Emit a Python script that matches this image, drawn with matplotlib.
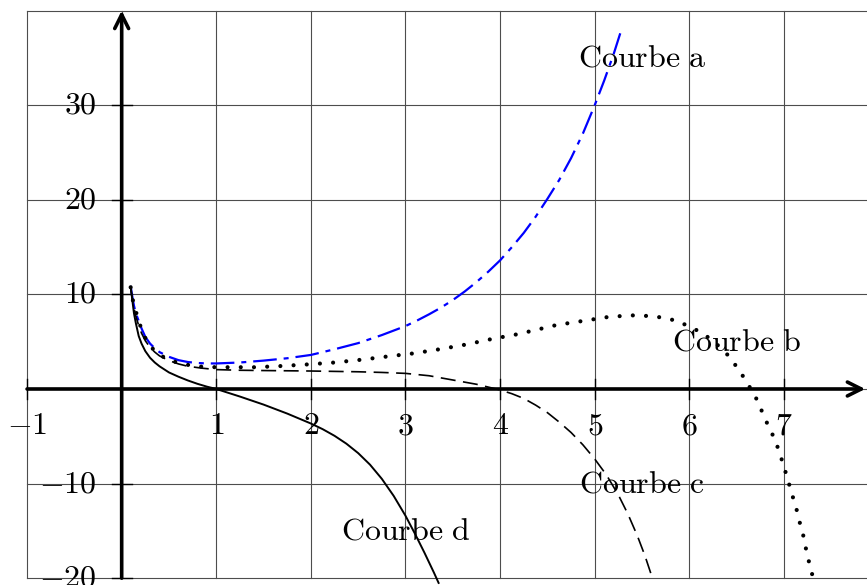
import matplotlib
matplotlib.use("Agg")
from matplotlib import pyplot as plt

plt.rcParams['mathtext.fontset'] = 'cm'
plt.rcParams['lines.scale_dashes'] = False

# values
xa = [0.095, 0.11, 0.13, 0.15, 0.18, 0.21, 0.25, 0.3, 0.35, 0.4, 0.5, 0.6, 0.7, 0.8, 0.9,
      1.0, 1.25, 1.5, 1.75, 2.0, 2.25, 2.5, 2.75, 3.0, 3.125, 3.25, 3.375, 3.5, 3.625,
      3.75, 3.875, 4.0, 4.125, 4.25, 4.375, 4.5, 4.625, 4.75, 4.875, 5.0, 5.1, 5.2, 5.27]
ya = [10.9, 9.9, 8.8, 8.0, 7.2, 6.4, 5.5, 4.8, 4.3, 3.9, 3.4, 3.05, 2.85, 2.75, 2.7,
      2.7, 2.8, 3.0, 3.25, 3.6, 4.2, 4.85, 5.7, 6.65, 7.25, 7.9, 8.6, 9.4, 10.3,
      11.3, 12.4, 13.6, 15.0, 16.5, 18.2, 20.1, 22.1, 24.4, 27.0, 30.0, 32.6, 35.4, 37.6]

xb = [0.095, 0.12, 0.15, 0.18, 0.21, 0.25, 0.3, 0.35, 0.4, 0.5, 0.6, 0.7, 0.85, 1.0,
      1.13, 1.41, 1.69, 1.97, 2.25, 2.54, 2.82, 3.09, 3.36, 3.64, 3.92, 4.19, 4.6, 4.88,
      5.16, 5.44, 5.58, 5.72, 5.86, 5.98, 6.11, 6.23, 6.33, 6.43, 6.51, 6.59, 6.66, 6.73,
      6.78, 6.84, 6.9, 6.95, 6.99, 7.03, 7.07, 7.11, 7.15, 7.18, 7.22, 7.24, 7.28, 7.31]
yb = [10.75, 9.3, 8.2, 7.2, 6.3, 5.4, 4.6, 4.0, 3.6, 3.1, 2.75, 2.55, 2.35, 2.3,
      2.3, 2.3, 2.43, 2.6, 2.8, 3.1, 3.45, 3.77, 4.2, 4.7, 5.3, 5.8, 6.77, 7.2,
      7.64, 7.8, 7.7, 7.55, 7.22, 6.7, 6.06, 5.25, 4.37, 3.35, 2.19, 1.02, -0.18, -1.4,
      -2.7, -4.0, -5.25, -6.6, -7.9, -9.2, -10.6, -11.95, -13.3, -14.7, -16.0, -17.4,
      -18.8, -20.1]

xc = [0.095, 0.12, 0.15, 0.18, 0.21, 0.25, 0.3, 0.35, 0.4, 0.5, 0.6, 0.7, 0.85, 1.0,
      1.25, 1.5, 2.0, 2.5, 2.75, 3.0, 3.25, 3.5, 3.75, 4.0, 4.125, 4.25, 4.375, 4.5,
      4.625, 4.75, 4.875, 5.0, 5.125, 5.25, 5.35, 5.45, 5.53, 5.61]
yc = [10.7, 9.0, 7.7, 6.7, 5.9, 5.1, 4.4, 3.9, 3.5, 3.0, 2.65, 2.4, 2.2, 2.05,
      1.98, 1.95, 1.9, 1.82, 1.75, 1.65, 1.4, 0.95, 0.5, -0.1, -0.5, -1.0, -1.7, -2.5,
      -3.5, -4.6, -5.9, -7.4, -9.1, -11.2, -13.2, -15.5, -17.6, -20.0]

xd = [0.095, 0.11, 0.13, 0.15, 0.18, 0.21, 0.25, 0.3, 0.35, 0.4, 0.5, 0.6, 0.7, 0.8, 0.9,
      1.0, 1.25, 1.5, 1.75, 2.0, 2.125, 2.25, 2.375, 2.5, 2.625, 2.75, 2.875, 3.0, 3.1,
      3.2, 3.3, 3.35]
yd = [10.8, 9.6, 8.0, 6.95, 5.6, 4.8, 4.0, 3.3, 2.8, 2.4, 1.75, 1.3, 0.9, 0.55, 0.25,
      0.0, -0.8, -1.65, -2.6, -3.65, -4.25, -4.95, -5.78, -6.78, -8.0, -9.5, -11.3, -13.4,
      -15.3, -17.3, -19.4, -20.5]

xticks = [-1, 1, 2, 3, 4, 5, 6, 7]
yticks = [-20, -10, 10, 20, 30]

labels = ['Courbe a', 'Courbe b', 'Courbe c', 'Courbe d']
label_pos = [(5.5, 35), (6.5, 5), (5.5, -10), (3, -15)]

fig = plt.figure(figsize=(8.67, 5.85), dpi=100)
ax = fig.add_axes([0, 0, 1, 1])
ax.set_xlim(-1.286, 7.878)
ax.set_ylim(-20.72, 41.12)
ax.axis('off')

# grid
for gx in range(-1, 9):
    ax.plot([gx, gx], [-20, 40], color='0.3', lw=0.8, zorder=1)
for gy in range(-20, 41, 10):
    ax.plot([-1, 8], [gy, gy], color='0.3', lw=0.8, zorder=1)

# axes with arrows
arrow = dict(arrowstyle='->,head_length=0.5,head_width=0.25', lw=2.6, color='k',
             shrinkA=0, shrinkB=0, mutation_scale=20)
ax.annotate('', xy=(7.86, 0), xytext=(-1, 0), arrowprops=arrow, zorder=3)
ax.annotate('', xy=(0, 40), xytext=(0, -20), arrowprops=arrow, zorder=3)

for t in xticks:
    ax.plot([t, t], [-1.06, 1.06], color='k', lw=1.0, zorder=3)
    ax.text(t, -3.9, '$%d$' % t, ha='center', va='center', fontsize=23)
for t in yticks:
    ax.plot([-0.105, 0.105], [t, t], color='k', lw=1.0, zorder=3)
    ax.text(-0.264, t, '$%d$' % t, ha='right', va='center', fontsize=23)

# curves
ax.plot(xa, ya, color='blue', lw=1.6, dashes=(17, 5, 3.6, 5), zorder=4)
ax.plot(xb, yb, color='k', lw=3.0, dashes=(0.01, 9.5), dash_capstyle='round', zorder=4)
ax.plot(xc, yc, color='k', lw=1.2, dashes=(10.8, 5.4), zorder=4)
ax.plot(xd, yd, color='k', lw=1.4, zorder=4)

for lab, (tx, ty) in zip(labels, label_pos):
    ax.text(tx, ty, r'$\mathrm{%s}$' % lab.replace(' ', r'\ '), ha='center', va='center',
            fontsize=23, zorder=5)

fig.savefig('out.png', dpi=100)
